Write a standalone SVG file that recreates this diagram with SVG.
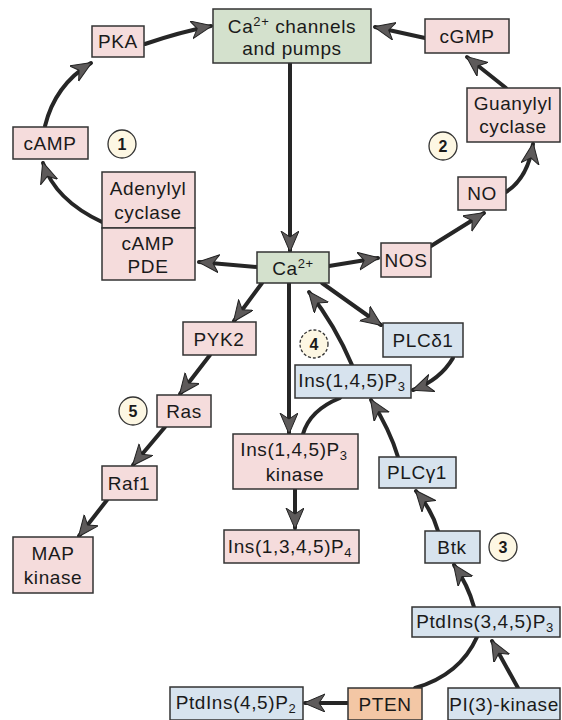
<svg xmlns="http://www.w3.org/2000/svg" width="562" height="720" viewBox="0 0 562 720">
<defs>
<marker id="ah" markerUnits="userSpaceOnUse" markerWidth="24" markerHeight="20" refX="20" refY="9" orient="auto">
<path d="M0,0 L21,9 L0,18 L6,9 z" fill="#5d5a5a" stroke="#222" stroke-width="1" stroke-linejoin="round"/>
</marker>
</defs>
<style>
.pink{fill:#f5dcdc;stroke:#333;stroke-width:1.5}
.blue{fill:#d7e3ee;stroke:#333;stroke-width:1.5}
.green{fill:#d4e1cd;stroke:#333;stroke-width:1.5}
.orange{fill:#f3c7a5;stroke:#333;stroke-width:1.5}
.num{fill:#fdf7e3;stroke:#333;stroke-width:1.3}
text{font-family:"Liberation Sans",Arial,sans-serif;font-size:19px;fill:#1a1a1a;text-anchor:middle;letter-spacing:0.6px}
.n{font-weight:bold;font-size:16px;letter-spacing:0}
.c{fill:none;stroke:#262626;stroke-width:4;stroke-linecap:round}
.a{marker-end:url(#ah)}
</style>
<rect width="562" height="720" fill="#fff"/>
<g id="connectors">
<path class="c a" d="M145,44 Q180,32 211,26"/>
<path class="c a" d="M45,126 Q55,85 91,63"/>
<path class="c a" d="M102,222 Q55,200 43,163"/>
<path class="c a" d="M425,38 L375,27"/>
<path class="c a" d="M506,88 L467,57"/>
<path class="c a" d="M506,192 Q528,178 533,144"/>
<path class="c a" d="M431,246 Q460,228 484,213"/>
<path class="c a" d="M290,63 L290,251"/>
<path class="c a" d="M257,267 L199,262"/>
<path class="c a" d="M329,266 L378,258"/>
<path class="c a" d="M262,283 L234,321"/>
<path class="c a" d="M322,283 L381,325"/>
<path class="c a" d="M289,283 L289,433"/>
<path class="c a" d="M352,365 Q335,325 309,292"/>
<path class="c a" d="M453,358 Q440,380 413,390"/>
<path class="c" d="M340,398 Q310,410 303,434"/>
<path class="c a" d="M398,457 Q390,430 371,400"/>
<path class="c a" d="M438,531 Q432,510 416,491"/>
<path class="c a" d="M474,607 Q468,585 454,565"/>
<path class="c" d="M477,637 Q460,675 415,688"/>
<path class="c a" d="M518,688 L492,641"/>
<path class="c a" d="M348,703 L305,703"/>
<path class="c a" d="M295,489 L295,528"/>
<path class="c a" d="M210,355 L180,394"/>
<path class="c a" d="M165,427 L133,465"/>
<path class="c a" d="M107,500 L79,536"/>
</g>
<g id="ca-channels"><rect class="green" x="213" y="9" width="158" height="54"/><text x="292" y="33">Ca<tspan font-size="13" dy="-7">2+</tspan><tspan dy="7"> channels</tspan></text><text x="292" y="55">and pumps</text></g>
<g id="pka"><rect class="pink" x="92" y="26" width="52" height="31"/><text x="118" y="48">PKA</text></g>
<g id="camp"><rect class="pink" x="13" y="127" width="75" height="32"/><text x="50" y="150">cAMP</text></g>
<g id="num1"><circle class="num" cx="122" cy="144" r="14"/><text class="n" x="122" y="150">1</text></g>
<g id="adenylyl-cyclase"><rect class="pink" x="102" y="172" width="93" height="56"/><text x="148" y="195">Adenylyl</text><text x="148" y="219">cyclase</text></g>
<g id="camp-pde"><rect class="pink" x="102" y="228" width="93" height="52"/><text x="148" y="250">cAMP</text><text x="148" y="273">PDE</text></g>
<g id="cgmp"><rect class="pink" x="425" y="19" width="84" height="34"/><text x="467" y="43">cGMP</text></g>
<g id="guanylyl-cyclase"><rect class="pink" x="467" y="88" width="93" height="54"/><text x="513" y="110">Guanylyl</text><text x="513" y="133">cyclase</text></g>
<g id="num2"><circle class="num" cx="443" cy="146" r="14"/><text class="n" x="443" y="152">2</text></g>
<g id="no"><rect class="pink" x="458" y="177" width="48" height="33"/><text x="482" y="200">NO</text></g>
<g id="ca"><rect class="green" x="257" y="252" width="72" height="31"/><text x="293" y="275">Ca<tspan font-size="13" dy="-7">2+</tspan></text></g>
<g id="nos"><rect class="pink" x="381" y="243" width="50" height="34"/><text x="406" y="267">NOS</text></g>
<g id="plcd1"><rect class="blue" x="383" y="323" width="80" height="34"/><text x="423" y="347">PLCδ1</text></g>
<g id="num4"><circle class="num" cx="314" cy="344" r="14" stroke-dasharray="3,2"/><text class="n" x="314" y="350">4</text></g>
<g id="ins145p3"><rect class="blue" x="295" y="365" width="116" height="33"/><text x="352" y="387">Ins(1,4,5)P<tspan font-size="13" dy="4">3</tspan></text></g>
<g id="pyk2"><rect class="pink" x="183" y="322" width="73" height="33"/><text x="219" y="346">PYK2</text></g>
<g id="ras"><rect class="pink" x="157" y="395" width="54" height="32"/><text x="184" y="418">Ras</text></g>
<g id="num5"><circle class="num" cx="133" cy="411" r="14"/><text class="n" x="133" y="417">5</text></g>
<g id="raf1"><rect class="pink" x="102" y="466" width="55" height="34"/><text x="129" y="490">Raf1</text></g>
<g id="map-kinase"><rect class="pink" x="13" y="537" width="80" height="56"/><text x="53" y="560">MAP</text><text x="53" y="584">kinase</text></g>
<g id="ins-kinase"><rect class="pink" x="233" y="434" width="125" height="55"/><text x="294" y="456">Ins(1,4,5)P<tspan font-size="13" dy="4">3</tspan></text><text x="295" y="481">kinase</text></g>
<g id="ins1345p4"><rect class="pink" x="224" y="530" width="135" height="33"/><text x="290" y="553">Ins(1,3,4,5)P<tspan font-size="13" dy="4">4</tspan></text></g>
<g id="plcg1"><rect class="blue" x="379" y="457" width="77" height="31"/><text x="417" y="479">PLCγ1</text></g>
<g id="btk"><rect class="blue" x="425" y="531" width="55" height="32"/><text x="452" y="554">Btk</text></g>
<g id="num3"><circle class="num" cx="503" cy="547" r="14"/><text class="n" x="503" y="553">3</text></g>
<g id="ptdins345p3"><rect class="blue" x="412" y="607" width="148" height="30"/><text x="485" y="628">PtdIns(3,4,5)P<tspan font-size="13" dy="4">3</tspan></text></g>
<g id="pten"><rect class="orange" x="348" y="688" width="74" height="32"/><text x="385" y="711">PTEN</text></g>
<g id="pi3k"><rect class="blue" x="448" y="688" width="112" height="32"/><text x="504" y="711">PI(3)-kinase</text></g>
<g id="ptdins45p2"><rect class="blue" x="170" y="687" width="133" height="33"/><text x="236" y="709">PtdIns(4,5)P<tspan font-size="13" dy="4">2</tspan></text></g>
</svg>
